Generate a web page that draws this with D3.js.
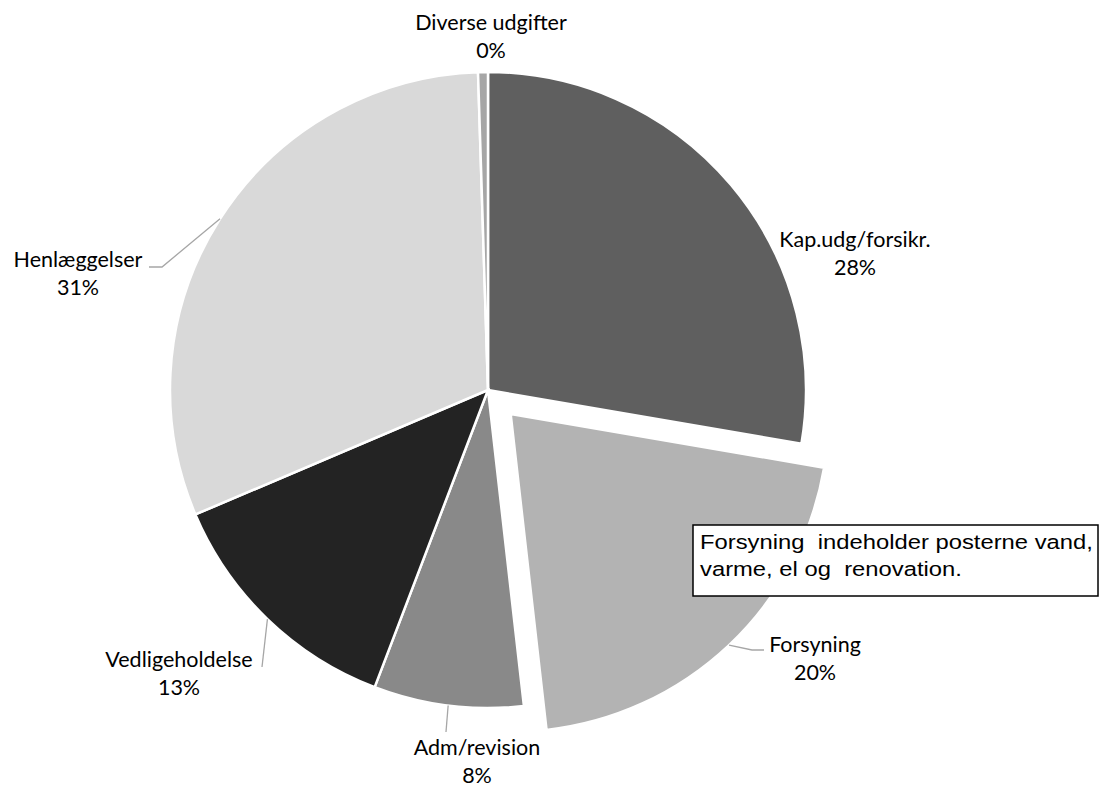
<!DOCTYPE html>
<html><head><meta charset="utf-8">
<script src="https://cdn.jsdelivr.net/npm/d3@7"></script>
<style>body{margin:0;background:#fff}svg{display:block}</style>
</head><body>
<svg id="c" width="1106" height="787"></svg>
<script>
const categories = ["Kap.udg/forsikr.", "Forsyning", "Adm/revision", "Vedligeholdelse", "Henlæggelser", "Diverse udgifter"];
const values = [27.7, 20.5, 7.6, 12.8, 30.9, 0.5];
const percentLabels = ["28%", "20%", "8%", "13%", "31%", "0%"];
const colors = ["#5f5f5f", "#b3b3b3", "#898989", "#232323", "#d9d9d9", "#a6a6a6"];
const explodedIndex = 1;
const noteLines = ["Forsyning  indeholder posterne vand,", "varme, el og  renovation."];

// layout (not data)
const cx = 488, cy = 390, R = 318, explode = 33;
const labelPos = [
  {x: 855, y: 247, line: null},
  {x: 815, y: 652, line: [[752, 650], [764, 650]]},
  {x: 477, y: 755, line: [[446, 732]]},
  {x: 179, y: 667, line: [[262, 667]]},
  {x: 78, y: 267, line: [[162, 267], [149, 267]]},
  {x: 491, y: 30, line: null}
];

const svg = d3.select("#c");
svg.append("rect").attr("width", 1106).attr("height", 787).attr("fill", "#fff");
const g = svg.append("g").attr("transform", `translate(${cx},${cy})`);

const pie = d3.pie().sort(null).value(d => d)(values);
const arc = d3.arc().innerRadius(0).outerRadius(R);
const edgeArc = d3.arc().innerRadius(R).outerRadius(R);

function offsetOf(i, d) {
  if (i !== explodedIndex) return [0, 0];
  const a = (d.startAngle + d.endAngle) / 2;
  return [explode * Math.sin(a), -explode * Math.cos(a)];
}

g.selectAll("path.slice").data(pie).join("path")
  .attr("class", "slice")
  .attr("d", arc)
  .attr("transform", (d, i) => { const o = offsetOf(i, d); return `translate(${o[0]},${o[1]})`; })
  .attr("fill", (d, i) => colors[i])
  .attr("stroke", "#fff")
  .attr("stroke-width", 2.5)
  .attr("stroke-linejoin", "miter");

// leader lines
pie.forEach((d, i) => {
  const lp = labelPos[i];
  if (!lp.line) return;
  const o = offsetOf(i, d);
  const c = edgeArc.centroid(d);
  const pts = [[cx + c[0] + o[0], cy + c[1] + o[1]], ...lp.line];
  svg.append("path")
    .attr("d", d3.line()(pts))
    .attr("fill", "none")
    .attr("stroke", "#a6a6a6")
    .attr("stroke-width", 1.3);
});

// labels
const fontFam = "Lato, 'Open Sans', sans-serif";
pie.forEach((d, i) => {
  const lp = labelPos[i];
  const t = svg.append("text")
    .attr("x", lp.x).attr("y", lp.y)
    .attr("text-anchor", "middle")
    .attr("font-family", fontFam)
    .attr("font-size", 21.5)
    .attr("fill", "#000");
  t.append("tspan").attr("x", lp.x).text(categories[i]);
  t.append("tspan").attr("x", lp.x).attr("dy", 28).text(percentLabels[i]);
});

// note box
const box = svg.append("g");
box.append("rect").attr("x", 693).attr("y", 525).attr("width", 405).attr("height", 71)
  .attr("fill", "#fff").attr("stroke", "#000").attr("stroke-width", 1.5);
const noteTexts = noteLines.map((s, k) =>
  box.append("text").attr("x", 0).attr("y", 0)
    .attr("font-family", "'Liberation Sans', Arial, sans-serif")
    .attr("font-size", 19.5)
    .attr("fill", "#000")
    .style("white-space", "pre")
    .text(s));
const w0 = noteTexts[0].node().getComputedTextLength();
const sx = 393 / w0;
noteTexts.forEach((t, k) => t.attr("transform", `translate(700,${549 + k * 27}) scale(${sx},1)`));
</script>
</body></html>
